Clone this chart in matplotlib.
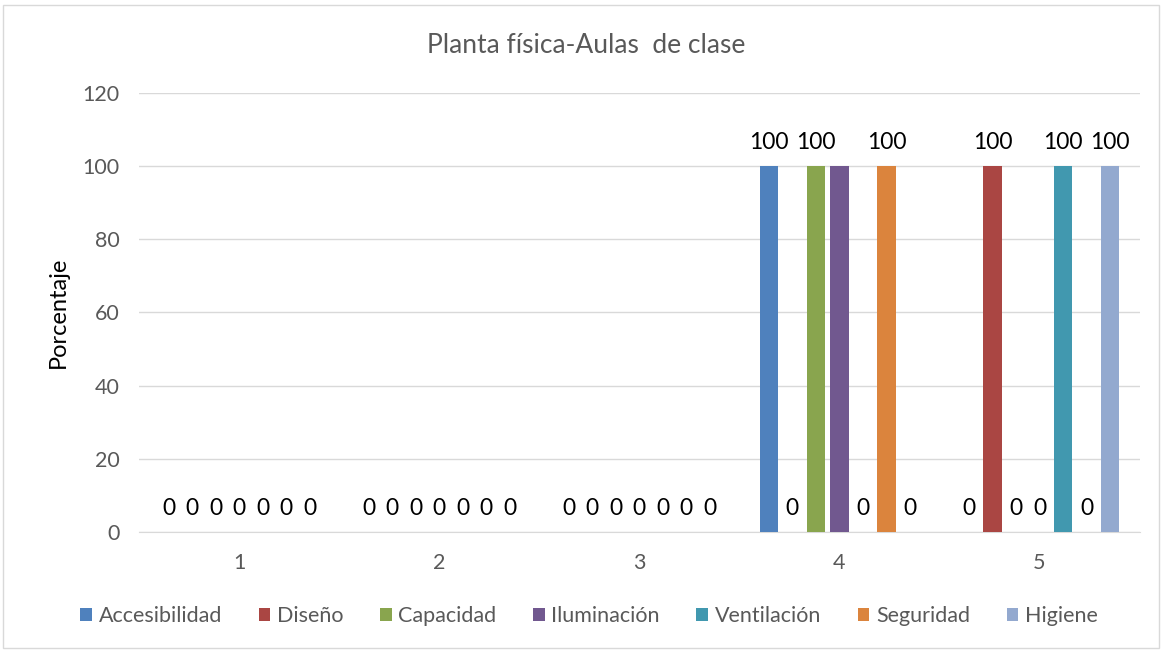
import numpy as np
import matplotlib.pyplot as plt
from matplotlib.patches import Rectangle

plt.rcParams['font.family'] = ['Lato', 'DejaVu Sans']

categories = ['1', '2', '3', '4', '5']
series_names = ['Accesibilidad', 'Diseño', 'Capacidad', 'Iluminación',
                'Ventilación', 'Seguridad', 'Higiene']
accesibilidad = [0, 0, 0, 100, 0]
diseno = [0, 0, 0, 0, 100]
capacidad = [0, 0, 0, 100, 0]
iluminacion = [0, 0, 0, 100, 0]
ventilacion = [0, 0, 0, 0, 100]
seguridad = [0, 0, 0, 100, 0]
higiene = [0, 0, 0, 0, 100]
# the reference does not show this data label
hidden_labels = [('Iluminación', '4')]
colors = ['#4f81bd', '#aa4643', '#89a54e', '#71588f', '#4198af', '#db843d', '#93a9cf']

series = [accesibilidad, diseno, capacidad, iluminacion, ventilacion, seguridad, higiene]

fig = plt.figure(figsize=(11.64, 6.53), dpi=100)
ax = fig.add_axes([0.1194, 0.1853, 0.8596, 0.6723])

x = np.arange(len(categories))
slot = 0.1175
width = 0.0925
for i, (name, vals) in enumerate(zip(series_names, series)):
    pos = x + (i - 3) * slot
    bars = ax.bar(pos, vals, width, color=colors[i], label=name, zorder=3)
    for b, v, cat in zip(bars, vals, categories):
        if (name, cat) in hidden_labels:
            continue
        ax.annotate(f'{v}', (b.get_x() + b.get_width() / 2, v),
                    xytext=(0, 9.5), textcoords='offset points',
                    ha='center', va='bottom', fontsize=16.5, color='#000000')

ax.set_xlim(-0.5, 4.5)
ax.set_ylim(0, 120)
ax.set_yticks(range(0, 121, 20))
ax.set_xticks(x)
ax.set_xticklabels(categories)
ax.tick_params(length=0, labelsize=15.5, colors='#595959')
ax.tick_params(axis='x', pad=15)
ax.tick_params(axis='y', pad=14)
ax.grid(axis='y', color='#d9d9d9', linewidth=1, zorder=0)
for s in ['top', 'right', 'left']:
    ax.spines[s].set_visible(False)
ax.spines['bottom'].set_color('#d9d9d9')
ax.set_ylabel('Porcentaje', fontsize=17, color='#000000', labelpad=10)

fig.text(0.504, 0.931, 'Planta física-Aulas  de clase', ha='center', va='center',
         fontsize=19, color='#595959')

leg = fig.legend(loc='center', bbox_to_anchor=(0.506, 0.057), ncol=7, frameon=False,
                 fontsize=15.5, handlelength=0.55, handleheight=0.55, handletextpad=0.3,
                 columnspacing=1.7)
for t in leg.get_texts():
    t.set_color('#595959')

fig.patches.append(Rectangle((0.003, 0.007), 0.993, 0.986, transform=fig.transFigure,
                             fill=False, edgecolor='#d9d9d9', linewidth=1))

fig.savefig('out.png', dpi=100)
